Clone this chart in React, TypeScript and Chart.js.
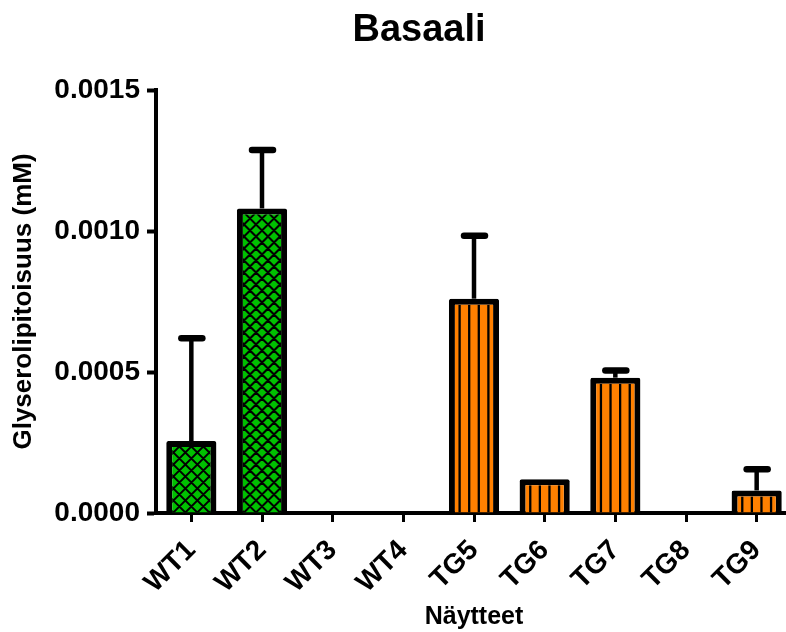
import React, { useEffect, useRef } from 'react';
import { Chart, registerables } from 'chart.js';

Chart.register(...registerables);

const categories = ['WT1', 'WT2', 'WT3', 'WT4', 'TG5', 'TG6', 'TG7', 'TG8', 'TG9'];
const means = [0.000255, 0.00108, 0, 0, 0.00076, 0.00012, 0.00048, 0, 0.00008];
const upperErrors = [0.000365, 0.000207, 0, 0, 0.000223, 0, 0.000025, 0, 0.000075];
const groups = ['WT', 'WT', 'WT', 'WT', 'TG', 'TG', 'TG', 'TG', 'TG'];

const GREEN = '#00C000';
const ORANGE = '#FF8000';
const FONT = 'Arial, "Liberation Sans", Helvetica, sans-serif';
const BORDER = 6;

const hatchPlugin = {
  id: 'hatch',
  afterDatasetsDraw(chart: any) {
    const ctx = chart.ctx;
    const meta = chart.getDatasetMeta(0);
    meta.data.forEach((el: any, i: number) => {
      const { x, y, base, width } = el.getProps(['x', 'y', 'base', 'width'], true);
      const left = x - width / 2 + BORDER;
      const right = x + width / 2 - BORDER;
      const top = y + BORDER;
      const bottom = base;
      if (bottom - top <= 1) return;
      ctx.save();
      ctx.beginPath();
      ctx.rect(left, top, right - left, bottom - top);
      ctx.clip();
      ctx.strokeStyle = '#000';
      ctx.beginPath();
      if (groups[i] === 'WT') {
        ctx.lineWidth = 2;
        const step = 12;
        const h = bottom - top + 30;
        for (let x0 = x - Math.ceil((h + width) / step) * step; x0 <= x + h + width; x0 += step) {
          ctx.moveTo(x0, bottom + 6);
          ctx.lineTo(x0 + h, bottom + 6 - h);
          ctx.moveTo(x0, bottom + 6);
          ctx.lineTo(x0 - h, bottom + 6 - h);
        }
      } else {
        ctx.lineWidth = 2.3;
        const step = 9.6;
        for (let k = -3; k <= 3; k++) {
          const lx = x + (k + 0.5) * step;
          ctx.moveTo(lx, top);
          ctx.lineTo(lx, bottom);
        }
      }
      ctx.stroke();
      ctx.restore();
    });
  },
};

const errorBarPlugin = {
  id: 'errorBars',
  afterDatasetsDraw(chart: any) {
    const ctx = chart.ctx;
    const yScale = chart.scales.y;
    const meta = chart.getDatasetMeta(0);
    meta.data.forEach((el: any, i: number) => {
      const err = upperErrors[i];
      if (!err) return;
      const top = yScale.getPixelForValue(means[i] + err);
      ctx.save();
      ctx.strokeStyle = '#000';
      ctx.lineWidth = 4.5;
      ctx.beginPath();
      ctx.moveTo(el.x, el.y);
      ctx.lineTo(el.x, top);
      ctx.stroke();
      ctx.lineWidth = 6.5;
      ctx.lineCap = 'round';
      ctx.beginPath();
      ctx.moveTo(el.x - 10, top);
      ctx.lineTo(el.x + 11, top);
      ctx.stroke();
      ctx.restore();
    });
  },
};

export default function App() {
  const ref = useRef<HTMLCanvasElement>(null);
  useEffect(() => {
    if (!ref.current) return;
    const chart = new Chart(ref.current, {
      type: 'bar',
      data: {
        labels: categories,
        datasets: [
          {
            data: means,
            backgroundColor: groups.map((g) => (g === 'WT' ? GREEN : ORANGE)),
            borderColor: '#000',
            borderWidth: BORDER,
            borderRadius: 2,
            borderSkipped: 'start',
            barPercentage: 0.71,
            categoryPercentage: 1,
          },
        ],
      },
      options: {
        responsive: false,
        animation: false,
        layout: { padding: 0 },
        plugins: {
          legend: { display: false },
          tooltip: { enabled: false },
          title: {
            display: true,
            text: 'Basaali',
            color: '#000',
            font: { family: FONT, size: 38, weight: 'bold' },
            padding: { top: 8, bottom: 36.4 },
          },
        },
        scales: {
          x: {
            z: 1,
            offset: true,
            border: { display: true, color: '#000', width: 4 },
            grid: {
              display: true,
              drawOnChartArea: false,
              drawTicks: true,
              tickLength: 9,
              tickWidth: 3,
              tickColor: '#000',
              offset: false,
            },
            ticks: {
              color: '#000',
              font: { family: FONT, size: 28, weight: 'bold' },
              minRotation: 45,
              maxRotation: 45,
              padding: 12,
            },
            title: {
              display: true,
              text: 'Näytteet',
              color: '#000',
              font: { family: FONT, size: 25, weight: 'bold' },
              padding: { top: 0, bottom: 0 },
            },
            afterFit: (scale: any) => {
              scale.height = 119;
            },
          },
          y: {
            min: 0,
            max: 0.0015,
            border: { display: true, color: '#000', width: 4 },
            grid: {
              display: true,
              drawOnChartArea: false,
              drawTicks: true,
              tickLength: 9,
              tickWidth: 4,
              tickColor: '#000',
            },
            ticks: {
              stepSize: 0.0005,
              color: '#000',
              font: { family: FONT, size: 28, weight: 'bold' },
              padding: 7,
              callback: (v: any) => Number(v).toFixed(4),
            },
            title: {
              display: true,
              text: 'Glyserolipitoisuus (mM)',
              color: '#000',
              font: { family: FONT, size: 26, weight: 'bold' },
              padding: { top: 8, bottom: 4 },
            },
            afterFit: (scale: any) => {
              scale.width = 156;
            },
          },
          yRight: {
            position: 'right',
            display: true,
            border: { display: false },
            grid: { display: false },
            ticks: { display: false },
            afterFit: (scale: any) => {
              scale.width = 46;
            },
          },
        },
      },
      plugins: [hatchPlugin, errorBarPlugin],
    });
    return () => chart.destroy();
  }, []);
  return (
    <div style={{ position: 'fixed', left: 0, top: 0, width: 838, height: 632, background: '#fff' }}>
      <canvas ref={ref} width={838} height={632} />
    </div>
  );
}
